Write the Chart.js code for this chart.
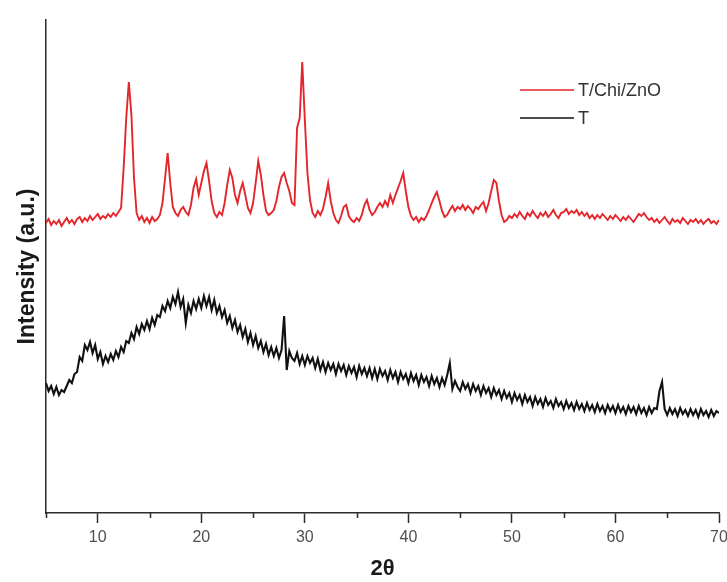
<!DOCTYPE html>
<html>
<head>
<meta charset="utf-8">
<script src="https://cdn.jsdelivr.net/npm/chart.js@4.4.1/dist/chart.umd.min.js"></script>
<style>
  html, body { margin: 0; padding: 0; background: #ffffff; }
  #wrap { width: 727px; height: 582px; }
</style>
</head>
<body>
<div id="wrap"><canvas id="xrd" width="727" height="582"></canvas></div>
<script>
// XRD scan: 2θ from 5° to 70°, recorded every 0.25°
const scanStart = 5;
const scanStep = 0.25;

const seriesLabels = ['T/Chi/ZnO', 'T'];
const seriesColors = ['#e3262b', '#111111'];

const xMajorTicks = [10, 20, 30, 40, 50, 60, 70];
const xMinorTicks = [5, 15, 25, 35, 45, 55, 65];

// Intensity (a.u.), four readings per degree
const tChiZnO = [
  290, 294, 288, 292,   289, 293, 287, 291,   295, 290, 293, 289,   294, 296, 291, 295,   // 5-8
  292, 297, 293, 296,   299, 294, 297, 295,   299, 296, 300, 297,   301, 305, 345, 395,   // 9-12
  431, 398, 335, 300,   293, 297, 291, 295,   290, 296, 292, 294,   298, 310, 335, 360,   // 13-16
  330, 306, 300, 297,   303, 306, 301, 298,   308, 325, 334, 318,   330, 342, 350, 332,   // 17-20
  312, 300, 296, 301,   298, 310, 328, 343,   335, 318, 310, 322,   330, 318, 305, 300,   // 21-24
  310, 330, 352, 338,   318, 302, 298, 300,   303, 312, 326, 336,   340, 330, 322, 310,   // 25-28
  308, 385, 395, 451,   393, 340, 313, 300,   296, 302, 298, 304,   316, 330, 312, 300,   // 29-32
  293, 290, 297, 306,   308, 297, 293, 291,   295, 292, 298, 308,   313, 303, 298, 301,   // 33-36
  306, 310, 306, 312,   307, 318, 310, 318,   325, 332, 340, 322,   306, 297, 293, 296,   // 37-40
  291, 295, 293, 297,   303, 310, 316, 321,   312, 302, 296, 298,   303, 307, 302, 306,   // 41-44
  304, 308, 303, 307,   304, 300, 306, 304,   308, 311, 302, 310,   322, 333, 330, 312,   // 45-48
  298, 291, 293, 297,   295, 299, 296, 301,   297, 294, 300, 297,   302, 298, 295, 300,   // 49-52
  297, 301, 296, 299,   303, 298, 295, 300,   301, 304, 299, 302,   300, 303, 298, 301,   // 53-56
  297, 300, 295, 298,   294, 298, 295, 299,   296, 293, 297, 294,   298, 295, 292, 296,   // 57-60
  293, 297, 294, 291,   295, 299, 297, 300,   296, 293, 295, 291,   294, 290, 293, 296,   // 61-64
  292, 289, 294, 291,   293, 290, 295, 292,   289, 293, 291, 294,   290, 293, 289, 292,   // 65-68
  294, 290, 292, 289,   293                                                             // 69-70
];

const tOnly = [
  130, 122, 127, 119,   126, 118, 123, 121,   127, 133, 130, 139,   141, 156, 152, 168,   // 5-8
  163, 171, 160, 168,   154, 161, 149, 157,   151, 159, 153, 162,   156, 166, 161, 172,   // 9-12
  170, 180, 174, 186,   179, 189, 183, 192,   184, 195, 188, 198,   196, 207, 202, 212,   // 13-16
  205, 216, 209, 221,   206, 214, 190, 208,   200, 212, 204, 214,   205, 217, 207, 216,   // 17-20
  203, 213, 200, 207,   196, 203, 190, 197,   185, 193, 181, 188,   176, 184, 171, 180,   // 21-24
  168, 177, 165, 172,   161, 169, 158, 166,   157, 165, 155, 163,   197, 143, 162, 155,   // 25-28
  152, 160, 149, 157,   148, 157, 150, 155,   145, 154, 143, 151,   141, 150, 143, 149,   // 29-32
  139, 149, 142, 148,   138, 147, 140, 146,   136, 147, 139, 145,   137, 145, 135, 144,   // 33-36
  134, 144, 137, 142,   133, 143, 135, 141,   131, 141, 134, 139,   130, 140, 132, 138,   // 37-40
  128, 138, 131, 136,   127, 137, 129, 135,   126, 135, 128, 138,   150, 124, 132, 126,   // 41-44
  122, 131, 124, 129,   120, 129, 122, 127,   118, 127, 120, 125,   116, 125, 118, 123,   // 45-48
  114, 122, 115, 120,   111, 120, 113, 118,   109, 118, 111, 116,   107, 116, 109, 114,   // 49-52
  106, 115, 108, 112,   105, 114, 107, 111,   104, 112, 105, 110,   103, 111, 104, 109,   // 53-56
  102, 110, 103, 108,   101, 109, 102, 107,   100, 108, 102, 107,   100, 108, 101, 106,   // 57-60
   99, 107, 101, 106,    99, 107, 100, 105,    98, 106, 100, 105,   104, 122, 131, 104,   // 61-64
   98, 105,  99, 104,    97, 105,  99, 103,    97, 104,  98, 103,    96, 104,  98, 102,   // 65-68
   96, 103,  97, 102,   100                                                             // 69-70
];

const toPoints = values => values.map((v, i) => ({ x: scanStart + i * scanStep, y: v }));

const FONT = "'Liberation Sans', Arial, Helvetica, sans-serif";
const AXIS_COLOR = '#2b2b2b';

// short tick marks at the half-decades under the 2θ axis
const minorTickPlugin = {
  id: 'minorTicks',
  afterDraw(chart) {
    const xs = chart.scales.x;
    const ctx = chart.ctx;
    ctx.save();
    ctx.strokeStyle = AXIS_COLOR;
    ctx.lineWidth = 1.5;
    ctx.beginPath();
    xMinorTicks.forEach(v => {
      const px = Math.round(xs.getPixelForValue(v)) + 0.5;
      ctx.moveTo(px, xs.top);
      ctx.lineTo(px, xs.top + 5);
    });
    ctx.stroke();
    ctx.restore();
  }
};

// stacked line legend in the upper right of the plot
const lineLegendPlugin = {
  id: 'lineLegend',
  afterDraw(chart) {
    const ctx = chart.ctx;
    const area = chart.chartArea;
    const x0 = area.right - 199;
    const y0 = area.top + 70;
    const rowGap = 28;
    const lineLen = 54;
    ctx.save();
    ctx.font = '18px ' + FONT;
    ctx.textBaseline = 'middle';
    ctx.fillStyle = '#333333';
    chart.data.datasets.forEach((ds, i) => {
      const y = y0 + i * rowGap;
      ctx.strokeStyle = ds.borderColor;
      ctx.lineWidth = 1.5;
      ctx.beginPath();
      ctx.moveTo(x0, y);
      ctx.lineTo(x0 + lineLen, y);
      ctx.stroke();
      ctx.fillText(ds.label, x0 + lineLen + 4, y + 1);
    });
    ctx.restore();
  }
};

new Chart(document.getElementById('xrd'), {
  type: 'line',
  data: {
    datasets: [
      {
        label: seriesLabels[0],
        data: toPoints(tChiZnO),
        borderColor: seriesColors[0],
        borderWidth: 1.9,
        pointRadius: 0,
        tension: 0,
        fill: false
      },
      {
        label: seriesLabels[1],
        data: toPoints(tOnly),
        borderColor: seriesColors[1],
        borderWidth: 2.1,
        pointRadius: 0,
        tension: 0,
        fill: false
      }
    ]
  },
  options: {
    responsive: false,
    animation: false,
    events: [],
    layout: { padding: { top: 20, right: 8, left: 0, bottom: 0 } },
    plugins: {
      legend: { display: false },
      tooltip: { enabled: false }
    },
    scales: {
      x: {
        type: 'linear',
        min: 5,
        max: 70,
        afterBuildTicks(scale) {
          scale.ticks = xMajorTicks.map(v => ({ value: v }));
        },
        afterFit(scale) {
          scale.height = 69;
          scale.paddingLeft = 0;
          scale.paddingRight = 0;
        },
        grid: {
          display: true,
          drawOnChartArea: false,
          drawTicks: true,
          tickLength: 10,
          tickColor: AXIS_COLOR,
          tickWidth: 1.5
        },
        border: { display: true, color: AXIS_COLOR, width: 1.5 },
        ticks: {
          autoSkip: false,
          maxRotation: 0,
          padding: 5,
          color: '#505050',
          font: { family: FONT, size: 16 }
        },
        title: {
          display: true,
          text: '2θ',
          color: '#1a1a1a',
          font: { family: FONT, size: 22, weight: 'bold' },
          padding: { top: 0, bottom: 0 }
        }
      },
      y: {
        type: 'linear',
        min: 0,
        max: 493,
        afterFit(scale) {
          scale.width = 46;
        },
        grid: { display: false, drawTicks: false },
        border: { display: true, color: AXIS_COLOR, width: 1.5 },
        ticks: { display: false },
        title: {
          display: true,
          text: 'Intensity (a.u.)',
          color: '#1a1a1a',
          font: { family: FONT, size: 23, weight: 'bold' },
          padding: { top: 14, bottom: 0 }
        }
      }
    }
  },
  plugins: [minorTickPlugin, lineLegendPlugin]
});
</script>
</body>
</html>
